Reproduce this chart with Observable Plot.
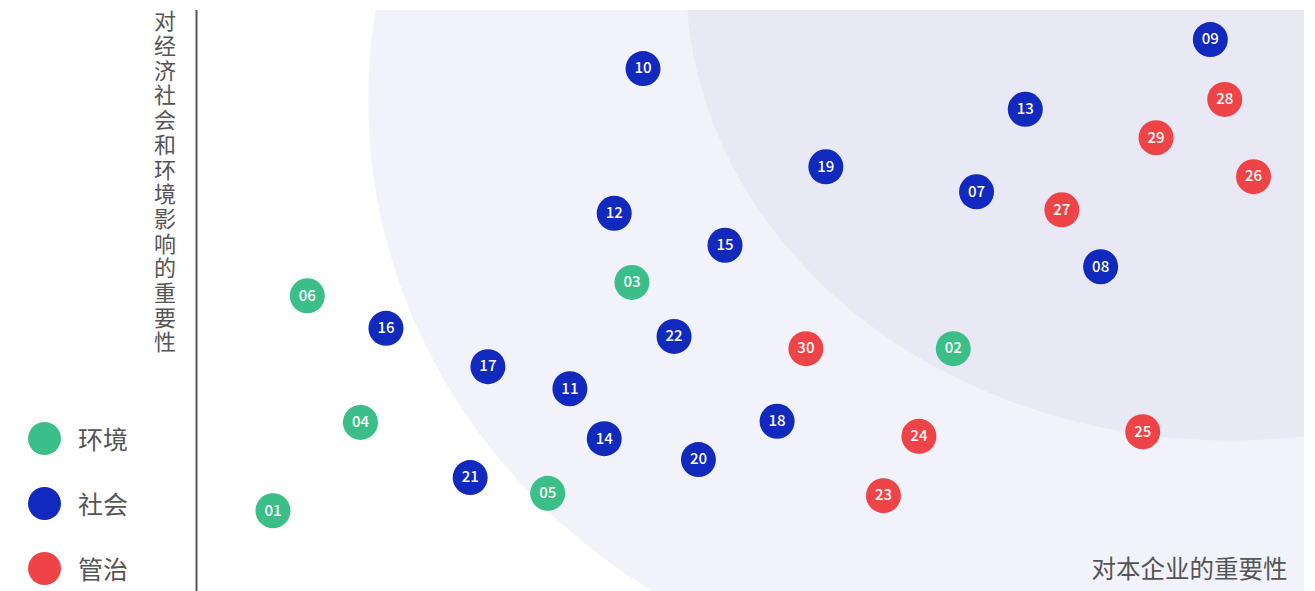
<!DOCTYPE html>
<html>
<head>
<meta charset="utf-8">
<script src="https://cdn.jsdelivr.net/npm/d3@7"></script>
<script src="https://cdn.jsdelivr.net/npm/@observablehq/plot@0.6"></script>
<style>
  html, body { margin: 0; padding: 0; background: #ffffff; }
  #wrap { position: relative; width: 1315px; height: 591px; overflow: hidden;
          font-family: "Noto Sans CJK SC", "Noto Sans", sans-serif; }
  #chart { position: absolute; left: 0; top: 0; }
  #ytitle { position: absolute; left: 154px; top: 10px; writing-mode: vertical-rl;
            text-orientation: upright; font-size: 22px; line-height: 22px;
            letter-spacing: 2.7px; color: #555; white-space: nowrap; }
  .legend-item { position: absolute; left: 28px; display: flex; align-items: center; height: 34px; }
  .legend-swatch { width: 33px; height: 33px; border-radius: 50%; }
  .legend-label { margin-left: 17px; font-size: 25px; color: #555; line-height: 34px; }
</style>
</head>
<body>
<div id="wrap">
  <div id="chart"></div>
  <div id="ytitle"></div>
  <div id="legend"></div>
</div>
<script>
// ---- data ----
const categories = ["环境", "社会", "管治"];
const topicIds = ["01","02","03","04","05","06","07","08","09","10",
                  "11","12","13","14","15","16","17","18","19","20",
                  "21","22","23","24","25","26","27","28","29","30"];
const topicCategory = ["环境","环境","环境","环境","环境","环境",
                       "社会","社会","社会","社会","社会","社会","社会","社会",
                       "社会","社会","社会","社会","社会","社会","社会","社会",
                       "管治","管治","管治","管治","管治","管治","管治","管治"];
// importance to the company (x)
const companyImportance = [0.69, 6.83, 3.93, 1.48, 3.17, 1.00, 7.04, 8.16, 9.15, 4.03,
                           3.37, 3.77, 7.48, 3.68, 4.77, 1.71, 2.63, 5.24, 5.68, 4.53,
                           2.47, 4.31, 6.20, 6.52, 8.54, 9.54, 7.81, 9.28, 8.66, 5.50];
// importance of economic, social & environmental impact (y)
const impactImportance = [1.39, 4.18, 5.32, 2.91, 1.69, 5.09, 6.88, 5.59, 9.50, 9.00,
                          3.49, 6.51, 8.30, 2.63, 5.96, 4.53, 3.87, 2.93, 7.31, 2.27,
                          1.96, 4.39, 1.65, 2.67, 2.75, 7.14, 6.57, 8.47, 7.81, 4.18];
const xTitle = "对本企业的重要性";
const yTitle = "对经济社会和环境影响的重要性";
// background importance zones (ellipses in data units)
const zoneNames = ["中", "高"];
const zoneCenterX = [7.26, 9.33];
const zoneCenterY = [8.45, 10.52];
const zoneRadiusX = [5.71, 4.91];
const zoneRadiusY = [10.12, 7.92];

// ---- build tables ----
const points = topicIds.map((id, i) => ({
  id, cat: topicCategory[i], x: companyImportance[i], y: impactImportance[i]
}));
const zoneOutline = [];
zoneNames.forEach((z, k) => {
  for (let a = 0; a <= 360; a += 2) {
    const t = a * Math.PI / 180;
    zoneOutline.push({
      zone: z,
      x: zoneCenterX[k] + zoneRadiusX[k] * Math.cos(t),
      y: zoneCenterY[k] + zoneRadiusY[k] * Math.sin(t)
    });
  }
});

const palette = ["#3cbe88", "#1229bd", "#ef4447"];
const zoneFill = ["#f1f2fa", "#e8e9f4"];

const chart = Plot.plot({
  width: 1315,
  height: 591,
  marginLeft: 196,
  marginRight: 11,
  marginTop: 10,
  marginBottom: 0,
  x: { domain: [0, 10], axis: null },
  y: { domain: [0, 10], axis: null },
  color: { domain: categories, range: palette },
  style: { background: "transparent", fontFamily: "'Noto Sans CJK SC', 'Noto Sans', sans-serif" },
  marks: [
    Plot.line(zoneOutline.filter(d => d.zone === zoneNames[0]),
      { x: "x", y: "y", fill: zoneFill[0], stroke: "none", clip: true }),
    Plot.line(zoneOutline.filter(d => d.zone === zoneNames[1]),
      { x: "x", y: "y", fill: zoneFill[1], stroke: "none", clip: true }),
    Plot.ruleX([0], { stroke: "#555", strokeWidth: 2 }),
    Plot.text([xTitle], {
      frameAnchor: "bottom-right", dx: -17, dy: -21,
      textAnchor: "end", lineAnchor: "middle",
      fontSize: 24.5, fill: "#555"
    }),
    Plot.dot(points, { x: "x", y: "y", r: 17.5, fill: "cat", stroke: "none" }),
    Plot.text(points, { x: "x", y: "y", text: "id", fill: "white", fontSize: 15, fontWeight: 500 })
  ]
});
document.getElementById("chart").appendChild(chart);
document.getElementById("ytitle").textContent = yTitle;

// ---- legend ----
const legend = document.getElementById("legend");
categories.forEach((c, i) => {
  const item = document.createElement("div");
  item.className = "legend-item";
  item.style.top = (421 + 65 * i) + "px";
  const sw = document.createElement("div");
  sw.className = "legend-swatch";
  sw.style.background = palette[i];
  const lab = document.createElement("span");
  lab.className = "legend-label";
  lab.textContent = c;
  item.appendChild(sw);
  item.appendChild(lab);
  legend.appendChild(item);
});
</script>
</body>
</html>
